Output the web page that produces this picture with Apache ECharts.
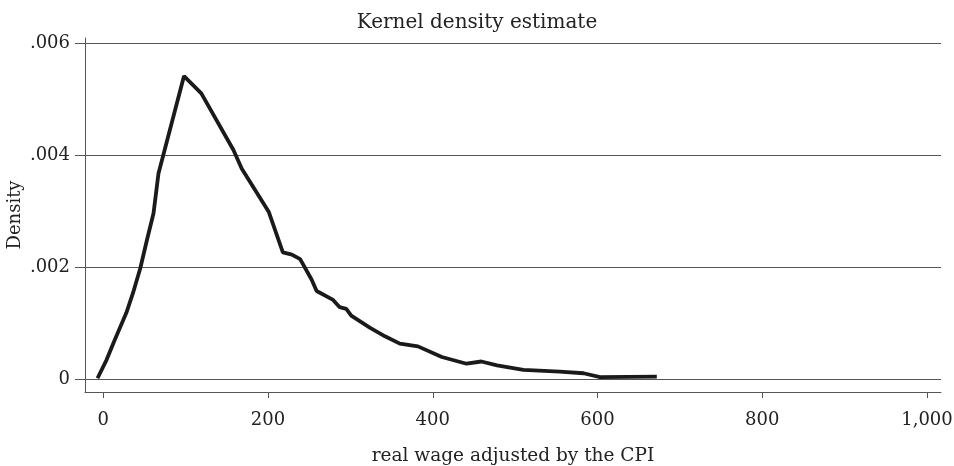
<!DOCTYPE html>
<html lang="en">
<head>
    <meta charset="UTF-8">
    <title>Kernel density estimate</title>
    <script src="https://cdn.jsdelivr.net/npm/echarts@6/dist/echarts.min.js"></script>
    <style>
        html, body { margin: 0; padding: 0; background: #fff; }
    </style>
</head>
<body>
<div id="main" style="width: 954px;height:466px;"></div>
<script>
    // curve: wage value and its density
    var wage = [-7, 4, 14, 28, 36, 45, 53, 61, 67, 98, 119, 158, 168, 201, 218, 229, 239, 253, 259,
        279, 287, 295, 301, 324, 342, 360, 382, 411, 441, 459, 478, 510, 554, 583, 603, 672];
    var density = [0.00002, 0.00035, 0.00071, 0.00119, 0.00154, 0.00199, 0.00249, 0.00297, 0.00368,
        0.00542, 0.00511, 0.00410, 0.00377, 0.00299, 0.00227, 0.00223, 0.00215, 0.00178, 0.00158,
        0.00142, 0.00129, 0.00126, 0.00114, 0.00092, 0.00077, 0.00064, 0.00059, 0.00040, 0.00028,
        0.00032, 0.00025, 0.00017, 0.00014, 0.00011, 0.00004, 0.00005];
    var xTicks = [0, 200, 400, 600, 800, 1000];
    var yTicks = [0, 0.002, 0.004, 0.006];

    var points = wage.map(function (w, i) {
        return [w, density[i]];
    });

    var font = 'DejaVu Serif';
    var lineColor = '#555555';

    var chart = echarts.init(document.getElementById('main'));
    var option = {
        animation: false,
        title: {
            text: 'Kernel density estimate',
            left: 'center',
            top: 8,
            textStyle: {fontFamily: font, fontSize: 20, fontWeight: 'normal', color: '#222'}
        },
        grid: {left: 85, right: 13, top: 38, bottom: 74, outerBoundsMode: 'none'},
        xAxis: {
            type: 'value',
            min: -22.2,
            max: 1017,
            name: 'real wage adjusted by the CPI',
            nameLocation: 'middle',
            nameGap: 55,
            nameMoveOverlap: false,
            nameTextStyle: {fontFamily: font, fontSize: 18.5, color: '#222'},
            axisLine: {show: true, onZero: false, lineStyle: {color: lineColor, width: 1}},
            axisTick: {show: true, length: 6, customValues: xTicks, lineStyle: {color: lineColor}},
            axisLabel: {
                customValues: xTicks,
                margin: 19,
                fontFamily: font, fontSize: 18, color: '#222',
                formatter: function (v) {
                    return v >= 1000 ? '1,000' : String(v);
                }
            },
            splitLine: {show: false}
        },
        yAxis: {
            type: 'value',
            min: -0.000225,
            max: 0.0061,
            name: 'Density',
            nameLocation: 'middle',
            nameGap: 61,
            nameRotate: 90,
            nameMoveOverlap: false,
            nameTextStyle: {fontFamily: font, fontSize: 18, color: '#222'},
            axisLine: {show: true, onZero: false, lineStyle: {color: lineColor, width: 1}},
            axisTick: {show: true, length: 10, customValues: yTicks, lineStyle: {color: lineColor}},
            axisLabel: {
                customValues: yTicks,
                margin: 15,
                fontFamily: font, fontSize: 18, color: '#222',
                formatter: function (v) {
                    return v === 0 ? '0' : String(v.toFixed(3)).replace(/^0/, '');
                }
            },
            splitLine: {show: true, lineStyle: {color: lineColor, width: 1}}
        },
        series: [{
            type: 'line',
            data: points,
            symbol: 'none',
            smooth: false,
            lineStyle: {color: '#1a1a1a', width: 3.8}
        }]
    };
    chart.setOption(option);
</script>
</body>
</html>
